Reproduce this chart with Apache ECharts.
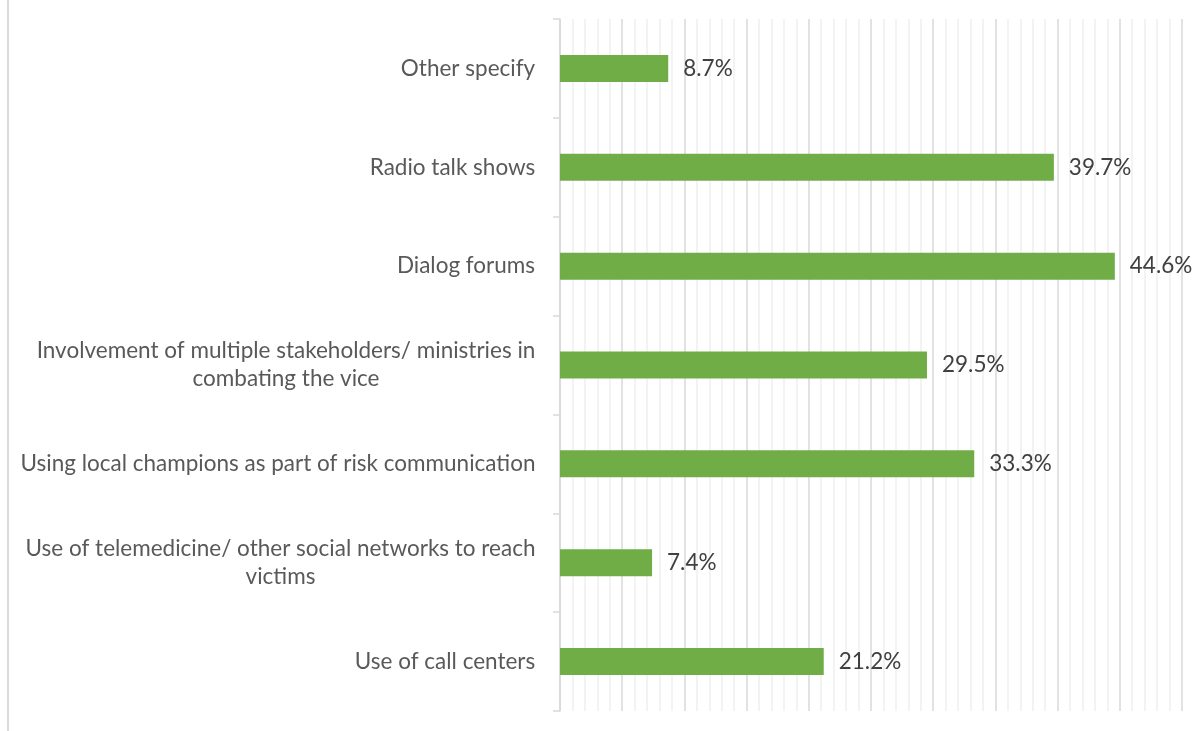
<!DOCTYPE html>
<html>
<head>
<meta charset="utf-8">
<script src="https://cdn.jsdelivr.net/npm/echarts@6/dist/echarts.min.js"></script>
<style>
  html, body { margin: 0; padding: 0; background: #fff; }
  #chart { width: 1198px; height: 731px; }
</style>
</head>
<body>
<div id="chart"></div>
<script>
// Strategies used, share of respondents (%), listed bottom to top
const categories = [
  'Use of call centers',
  'Use of telemedicine/ other social networks to reach\nvictims',
  'Using local champions as part of risk communication',
  'Involvement of multiple stakeholders/ ministries in\ncombating the vice',
  'Dialog forums',
  'Radio talk shows',
  'Other specify'
];
const shares = [21.2, 7.4, 33.3, 29.5, 44.6, 39.7, 8.7];

const FONT = 'Lato, "Open Sans", sans-serif';
const LABEL_SIZE = 22.5;

// Measure the widest line of each category so wrapped labels can be
// centred line by line while the block stays right-aligned to the axis.
const measureCtx = document.createElement('canvas').getContext('2d');
measureCtx.font = LABEL_SIZE + 'px ' + FONT;
const rich = {};
categories.forEach(function (c, i) {
  const w = Math.max.apply(null, c.split('\n').map(function (l) {
    return measureCtx.measureText(l).width;
  }));
  rich['c' + i] = {
    width: Math.ceil(w) + 1,
    align: 'center',
    color: '#595959',
    fontFamily: FONT,
    fontSize: LABEL_SIZE,
    lineHeight: 28
  };
});

const chart = echarts.init(document.getElementById('chart'), null, { renderer: 'canvas' });

chart.setOption({
  backgroundColor: '#ffffff',
  animation: false,
  grid: { left: 560, right: 16, top: 19, bottom: 20, containLabel: false },
  xAxis: {
    type: 'value',
    min: 0,
    max: 50,
    interval: 5,
    axisLine: { show: false },
    axisTick: { show: false },
    axisLabel: { show: false },
    splitLine: { show: true, lineStyle: { color: '#D9D9D9', width: 1.5 } },
    minorTick: { show: false, splitNumber: 5 },
    minorSplitLine: { show: true, lineStyle: { color: '#F0F0F0', width: 1.5 } }
  },
  yAxis: {
    type: 'category',
    data: categories,
    axisLine: { show: true, lineStyle: { color: '#D9D9D9', width: 1.5 } },
    axisTick: { show: true, length: 7, lineStyle: { color: '#D9D9D9', width: 1.5 } },
    splitLine: { show: false },
    axisLabel: {
      margin: 24,
      color: '#595959',
      fontFamily: FONT,
      fontSize: LABEL_SIZE,
      lineHeight: 28,
      align: 'right',
      formatter: function (v, idx) {
        return v.split('\n').map(function (l) {
          return '{c' + idx + '|' + l + '}';
        }).join('\n');
      },
      rich: rich
    }
  },
  series: [{
    type: 'bar',
    data: shares,
    barWidth: 27,
    itemStyle: { color: '#70AD47' },
    label: {
      show: true,
      position: 'right',
      distance: 15,
      color: '#404040',
      fontFamily: FONT,
      fontSize: LABEL_SIZE,
      formatter: function (p) { return p.value.toFixed(1) + '%'; }
    }
  }],
  graphic: [{
    type: 'line',
    shape: { x1: 8, y1: 0, x2: 8, y2: 731 },
    style: { stroke: '#D9D9D9', lineWidth: 2 },
    silent: true
  }]
});
</script>
</body>
</html>
